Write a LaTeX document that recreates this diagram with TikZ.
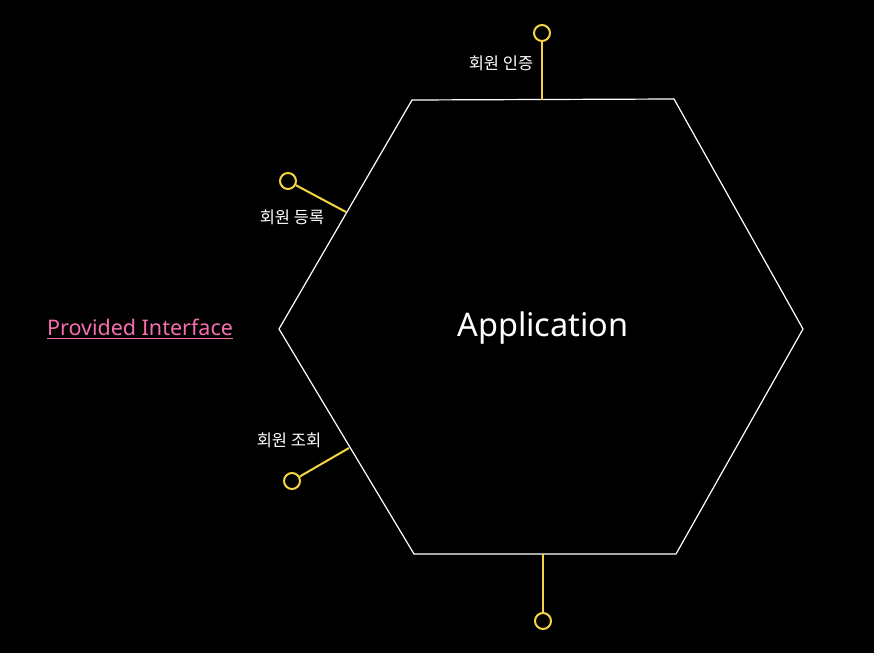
\documentclass[tikz,border=0pt]{standalone}
\usepackage{fontspec}
\setmainfont{Noto Sans}
\newfontfamily\krfont{Noto Sans CJK KR}
\usepackage{tikz}
\usetikzlibrary{positioning, calc}
\definecolor{IfYellow}{RGB}{245,212,66}
\definecolor{IfPink}{RGB}{245,110,175}

\begin{document}
\begin{tikzpicture}[
  x=1pt, y=-1pt,
  hexline/.style={draw=white, line width=1.2pt, line join=miter},
  appname/.style={text=white, font=\fontsize{32.5}{36}\selectfont, inner sep=0pt},
  lolli/.style={circle, draw=IfYellow, line width=2pt, minimum size=16pt, inner sep=0pt},
  stick/.style={IfYellow, line width=2pt},
  iflabel/.style={text=white, font=\krfont\fontsize{16.5}{18}\selectfont, inner sep=0pt},
  provtext/.style={text=IfPink, font=\fontsize{21.5}{24}\selectfont, inner sep=0pt}
]

% Background
\fill[black] (0,0) rectangle (874,653);
\useasboundingbox (0,0) rectangle (874,653);

% Hexagon (application)
\node[appname] (app) at (543,328) {Application};
\coordinate (h1) at (412,100);
\coordinate (h2) at (674,99);
\coordinate (h3) at (803,329);
\coordinate (h4) at (676,554);
\coordinate (h5) at (414,554);
\coordinate (h6) at (279,329);
\draw[hexline] (h1) -- (h2) -- (h3) -- (h4) -- (h5) -- (h6) -- cycle;

% Attach points on the hexagon
\coordinate (pAuth) at (542,99.5);
\coordinate (pReg) at (346,212);
\coordinate (pFind) at (349,448);
\coordinate (pBot) at (543,554);

% Provided interfaces
\node[lolli] (iAuth) at (542,33) {};
\node[lolli] (iReg) at (288,181) {};
\node[lolli] (iFind) at (292,481) {};
\node[lolli] (iBot) at (543,621) {};
\draw[stick] (pAuth) -- (iAuth);
\draw[stick] (pReg) -- (iReg);
\draw[stick] (pFind) -- (iFind);
\draw[stick] (pBot) -- (iBot);

% Labels
\node[iflabel] (lAuth) at (501,63) {회원 인증};
\node[iflabel] (lReg) at (292,217) {회원 등록};
\node[iflabel] (lFind) at (289,440) {회원 조회};

\node[provtext] (prov) at (140,327) {Provided Interface};
\draw[IfPink, line width=1pt] ([yshift=-3.5pt]prov.base west) -- ([yshift=-3.5pt]prov.base east);

\end{tikzpicture}
\end{document}
